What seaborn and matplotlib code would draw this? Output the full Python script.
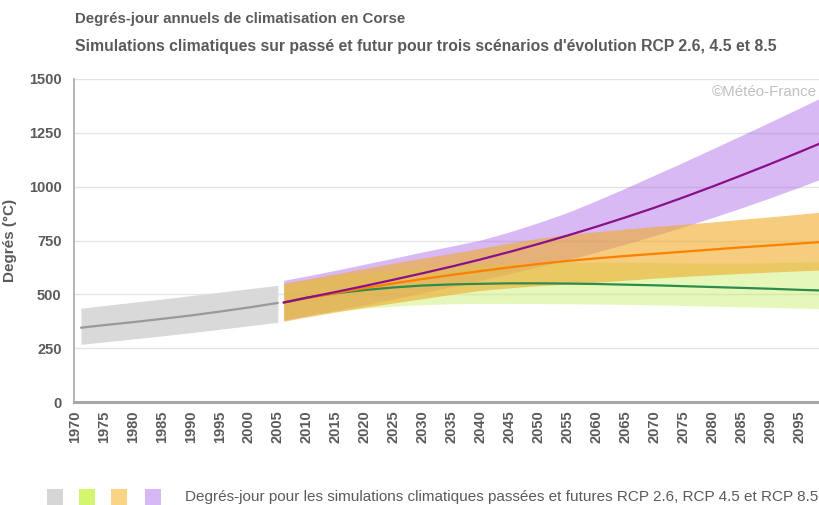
import numpy as np
import pandas as pd
import matplotlib
matplotlib.use("Agg")
import matplotlib.pyplot as plt
from matplotlib.patches import Rectangle
import seaborn as sns

# ---- data -------------------------------------------------------------
years_past = [1971, 1975, 1980, 1985, 1990, 1995, 2000, 2005]
past_mid = [345, 357, 371, 386, 402, 420, 439, 460]
past_low = [268, 279, 293, 307, 322, 338, 354, 370]
past_high = [435, 448, 463, 478, 494, 510, 526, 542]

years_fut = [2006, 2010, 2015, 2020, 2025, 2030, 2035, 2040, 2045, 2050,
             2055, 2060, 2065, 2070, 2075, 2080, 2085, 2090, 2095, 2100]

rcp26_mid = [462, 485, 505, 520, 532, 541, 546, 549, 551, 551,
             550, 548, 545, 542, 538, 534, 530, 526, 521, 517]
rcp26_low = [385, 405, 422, 435, 445, 452, 456, 458, 458, 457,
             456, 455, 453, 451, 448, 445, 442, 439, 436, 433]
rcp26_high = [545, 565, 585, 600, 613, 624, 633, 640, 645, 648,
              650, 650, 649, 648, 646, 645, 645, 647, 650, 652]

rcp45_mid = [462, 482, 506, 529, 551, 571, 590, 608, 625, 641,
             655, 667, 678, 688, 698, 708, 718, 727, 736, 745]
rcp45_low = [375, 395, 418, 440, 460, 480, 500, 518, 530, 540,
             548, 556, 565, 575, 583, 590, 597, 603, 609, 614]
rcp45_high = [552, 570, 595, 620, 645, 668, 690, 714, 738, 760,
              778, 791, 803, 815, 825, 836, 848, 860, 872, 885]

rcp85_mid = [462, 484, 511, 539, 568, 598, 629, 662, 697, 734,
             773, 814, 857, 902, 950, 1000, 1052, 1105, 1160, 1216]
rcp85_low = [380, 400, 425, 451, 478, 506, 535, 565, 596, 628,
             661, 696, 733, 772, 813, 856, 901, 948, 997, 1048]
rcp85_high = [565, 585, 612, 640, 668, 697, 724, 752, 790, 833,
              880, 935, 993, 1053, 1113, 1175, 1237, 1300, 1364, 1428]

x_ticks = list(range(1970, 2100, 5))
y_ticks = [0, 250, 500, 750, 1000, 1250, 1500]

title = "Degrés-jour annuels de climatisation en Corse"
subtitle = ("Simulations climatiques sur passé et futur pour trois scénarios "
            "d'évolution RCP 2.6, 4.5 et 8.5")
legend_text = ("Degrés-jour pour les simulations climatiques passées et futures "
               "RCP 2.6, RCP 4.5 et RCP 8.5")

# ---- style ------------------------------------------------------------
sns.set_theme(style="white")
plt.rcParams["font.family"] = ["Liberation Sans", "DejaVu Sans"]
text_grey = "#5a5a5a"

fig = plt.figure(figsize=(8.19, 5.05), dpi=100)
W, H = 819, 505
# plot area: left spine at x=74 px, baseline y=402 px, top y=79 px
ax = fig.add_axes([74 / W, (H - 402) / H, 754 / W, 323 / H])

# ---- bands ------------------------------------------------------------
ax.fill_between(years_past, past_low, past_high, color="#d9d9d9", lw=0, zorder=1)
ax.fill_between(years_fut, rcp85_low, rcp85_high, color=(170/255, 100/255, 230/255),
                alpha=0.45, lw=0, zorder=2)
ax.fill_between(years_fut, rcp26_low, rcp26_high, color=(200/255, 240/255, 100/255),
                alpha=0.45, lw=0, zorder=3)
ax.fill_between(years_fut, rcp45_low, rcp45_high, color=(240/255, 170/255, 40/255),
                alpha=0.6, lw=0, zorder=4)

# ---- lines ------------------------------------------------------------
past_df = pd.DataFrame({"année": years_past, "valeur": past_mid, "série": "passé"})
fut_df = pd.concat([
    pd.DataFrame({"année": years_fut, "valeur": rcp26_mid, "série": "RCP 2.6"}),
    pd.DataFrame({"année": years_fut, "valeur": rcp45_mid, "série": "RCP 4.5"}),
    pd.DataFrame({"année": years_fut, "valeur": rcp85_mid, "série": "RCP 8.5"}),
])
sns.lineplot(data=past_df, x="année", y="valeur", color="#999999", lw=1.6,
             ax=ax, legend=False, zorder=5)
sns.lineplot(data=fut_df, x="année", y="valeur", hue="série",
             hue_order=["RCP 2.6", "RCP 4.5", "RCP 8.5"],
             palette={"RCP 2.6": "#2e8b4e", "RCP 4.5": "#ff7f00", "RCP 8.5": "#8a0f8a"},
             lw=1.6, ax=ax, legend=False, zorder=6)

# ---- axes -------------------------------------------------------------
ax.set_xlim(1969.8, 2100)
ax.set_ylim(0, 1500)
ax.set_xticks(x_ticks)
ax.set_yticks(y_ticks)
ax.set_xticklabels([str(t) for t in x_ticks], rotation=90, fontsize=10.5,
                   fontweight="bold", color=text_grey)
ax.set_yticklabels([str(t) for t in y_ticks], fontsize=10.5,
                   fontweight="bold", color=text_grey)
ax.tick_params(axis="x", length=0, pad=6)
ax.tick_params(axis="y", length=0, pad=9)
ax.set_xlabel("")
ax.set_ylabel("Degrés (°C)", fontsize=11, fontweight="bold", color=text_grey)
ax.yaxis.set_label_coords(-0.075, 0.5)
for y in y_ticks[1:]:
    ax.axhline(y, color="#e4e4e4", lw=1.0, zorder=0)
for side in ["top", "right"]:
    ax.spines[side].set_visible(False)
ax.spines["left"].set_color("#a8a8a8")
ax.spines["left"].set_linewidth(1.2)
ax.spines["bottom"].set_color("#a8a8a8")
ax.spines["bottom"].set_linewidth(2.2)

# watermark
fig.text(712 / W, 1 - 92 / H, "©Météo-France", fontsize=10.9, color="#c0c0c0",
         va="center", ha="left")

# ---- titles -----------------------------------------------------------
fig.text(75 / W, 1 - 19 / H, title, fontsize=10.8, fontweight="bold",
         color=text_grey, va="center", ha="left")
fig.text(75 / W, 1 - 46 / H, subtitle, fontsize=11.3, fontweight="bold",
         color=text_grey, va="center", ha="left")

# ---- legend -----------------------------------------------------------
legend_colors = ["#d6d6d6", "#d4f56e", "#f9d386", "#d6b8f4"]
legend_x = [47, 79, 111, 145]
for c, lx in zip(legend_colors, legend_x):
    fig.patches.append(Rectangle((lx / W, (H - 505) / H), 16 / W, 16 / H,
                                 transform=fig.transFigure, color=c, lw=0))
fig.text(185 / W, 1 - 497 / H, legend_text, fontsize=10.95, color=text_grey,
         va="center", ha="left")

fig.savefig("out.png", dpi=100)
